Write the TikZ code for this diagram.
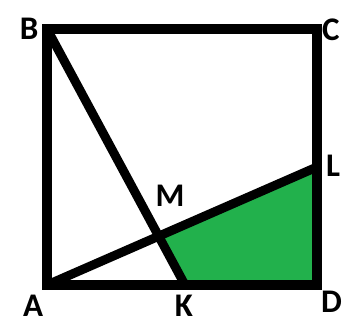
\documentclass[tikz,border=0pt]{standalone}
\usepackage{fontspec}
\setmainfont{Carlito}
\definecolor{paintgreen}{HTML}{22B14C}
\tikzset{
  edge/.style={line width=9.5pt, line join=miter, line cap=rect},
  lbl/.style={font=\fontsize{33}{33}\selectfont\bfseries, inner sep=0pt}
}
\begin{document}
\begin{tikzpicture}[x=1pt,y=-1pt]
\useasboundingbox (0,0) rectangle (342,324);
\coordinate (A) at (47,285);
\coordinate (B) at (47,29);
\coordinate (C) at (317,29);
\coordinate (D) at (317,285);
\coordinate (K) at (185,285);
\coordinate (L) at (317,167);
\coordinate (M) at (intersection of B--K and A--L);
\fill[paintgreen] (M) -- (L) -- (D) -- (K) -- cycle;
\draw[edge] (A) -- (B) -- (C) -- (D) -- cycle;
\draw[line width=9pt] (B) -- (K);
\draw[line width=9pt] (A) -- (L);
\node[lbl] (lB) at (29,29) {B};
\node[lbl, anchor=west] (lC) at (322,30) {C};
\node[lbl, anchor=west] (lL) at (326,166) {L};
\node[lbl] (lM) at (170,196) {M};
\node[lbl] (lA) at (33,306) {A};
\node[lbl] (lK) at (184,306) {K};
\node[lbl, anchor=west] (lD) at (321,302) {D};
\end{tikzpicture}
\end{document}
